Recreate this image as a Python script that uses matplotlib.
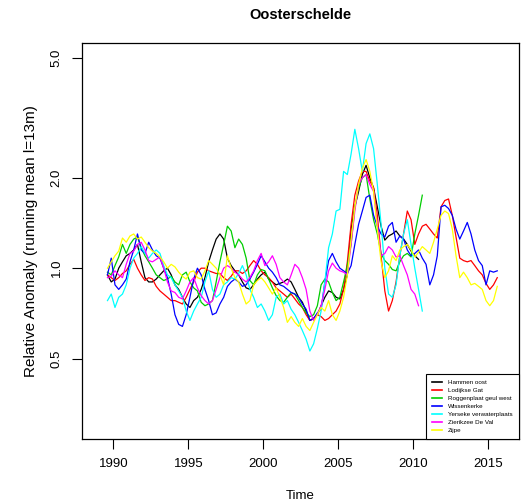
import numpy as np
import matplotlib
matplotlib.use("Agg")
import matplotlib.pyplot as plt

plt.rcParams['font.family'] = ['Liberation Sans', 'DejaVu Sans']

# quarterly samples of the 13-month running mean, first sample at 1989.6
t0 = 1989.6
step = 0.25

hammen_oost = [0.95, 0.9, 0.92, 1.0, 1.05, 1.1, 1.12, 1.15, 1.2, 1.05,
               0.93, 0.9, 0.9, 0.92, 0.95, 0.98, 1.0, 0.95, 0.88, 0.85,
               0.8, 0.76, 0.74, 0.78, 0.8, 0.85, 0.93, 1.05, 1.15, 1.25,
               1.3, 1.25, 1.08, 1.02, 0.98, 0.95, 0.9, 0.86, 0.85, 0.88,
               0.92, 0.95, 0.97, 0.92, 0.9, 0.88, 0.89, 0.9, 0.92, 0.9,
               0.85, 0.8, 0.77, 0.72, 0.67, 0.68, 0.7, 0.75, 0.8, 0.84,
               0.83, 0.8, 0.79, 0.85, 0.95, 1.35, 1.6, 1.8, 2.05, 2.2,
               2.0, 1.85, 1.6, 1.38, 1.24, 1.28, 1.3, 1.33, 1.28, 1.25,
               1.2, 1.14, 1.1, 1.07]

lodijkse_gat = [0.95, 0.93, 0.91, 0.93, 0.96, 0.98, 1.03, 1.07, 1.0, 0.95,
                0.91, 0.93, 0.92, 0.87, 0.84, 0.82, 0.8, 0.78, 0.78, 0.77,
                0.76, 0.8, 0.85, 0.9, 0.97, 1.0, 1.0, 0.98, 0.97, 0.96,
                0.96, 0.93, 0.91, 0.94, 0.98, 0.98, 0.96, 0.98, 1.02, 1.06,
                1.03, 0.98, 0.95, 0.93, 0.9, 0.86, 0.84, 0.82, 0.8, 0.82,
                0.79, 0.76, 0.74, 0.7, 0.67, 0.68, 0.7, 0.69, 0.67, 0.68,
                0.7, 0.72, 0.76, 0.85, 1.05, 1.4, 1.75, 1.95, 2.1, 2.1,
                1.95, 1.85, 1.5, 1.1, 0.84, 0.72, 0.78, 0.9, 1.1, 1.3,
                1.55, 1.45, 1.2, 1.3, 1.38, 1.4, 1.35, 1.3, 1.26, 1.6,
                1.68, 1.7, 1.5, 1.27, 1.08, 1.06, 1.05, 1.06, 1.02, 0.98,
                0.95, 0.89, 0.85, 0.88, 0.93]

roggenplaat = [0.97, 0.95, 1.02, 1.09, 1.2, 1.12, 1.2, 1.25, 1.27, 1.17,
               1.1, 1.05, 1.0, 0.95, 0.93, 0.91, 0.92, 0.94, 0.9, 0.88,
               0.95, 0.97, 0.9, 0.86, 0.84, 0.77, 0.75, 0.76, 0.78, 0.9,
               1.05, 1.2, 1.38, 1.33, 1.17, 1.25, 1.2, 1.08, 0.91, 0.88,
               0.95, 0.99, 0.98, 0.92, 0.86, 0.81, 0.78, 0.77, 0.8, 0.83,
               0.82, 0.78, 0.74, 0.71, 0.69, 0.7, 0.75, 0.88, 0.92, 0.9,
               0.83, 0.78, 0.8, 0.9, 1.02, 1.2, 1.6, 1.85, 2.0, 2.05,
               1.7, 1.45, 1.3, 1.12, 1.06, 1.03, 0.99, 0.98, 1.05, 1.1,
               1.12, 1.09, 1.3, 1.5, 1.75]

wissenkerke = [0.95, 1.08, 0.88, 0.85, 0.88, 0.92, 1.05, 1.15, 1.3, 1.15,
               1.12, 1.22, 1.15, 1.1, 1.08, 1.0, 0.93, 0.82, 0.7, 0.65,
               0.64, 0.7, 0.8, 0.92, 1.0, 0.95, 0.85, 0.78, 0.7, 0.71,
               0.76, 0.8, 0.87, 0.9, 0.92, 0.9, 0.87, 0.88, 0.92, 0.97,
               1.03, 1.1, 1.05, 1.0, 0.97, 0.93, 0.88, 0.87, 0.85, 0.83,
               0.82, 0.8, 0.76, 0.73, 0.67, 0.68, 0.71, 0.73, 0.9, 1.06,
               1.12, 1.05, 1.0, 0.98, 0.96, 1.02, 1.2, 1.4, 1.55, 1.72,
               1.75, 1.5, 1.38, 1.3, 1.27, 1.38, 1.42, 1.22, 1.28, 1.25,
               1.15, 1.1, 1.12, 1.15, 1.08, 1.03, 0.88, 0.95, 1.1, 1.6,
               1.62, 1.58, 1.5, 1.35, 1.25, 1.33, 1.42, 1.3, 1.15, 1.06,
               1.02, 0.88, 0.98, 0.97, 0.98]

yerseke = [0.78, 0.82, 0.74, 0.8, 0.82, 0.88, 1.0, 1.08, 1.12, 1.18,
           1.12, 1.08, 1.12, 1.15, 1.12, 1.02, 0.95, 0.93, 0.88, 0.84,
           0.8, 0.72, 0.67, 0.72, 0.76, 0.8, 0.9, 0.98, 0.85, 0.8,
           0.82, 0.88, 0.9, 0.93, 0.92, 0.96, 1.02, 0.95, 0.85, 0.8,
           0.74, 0.76, 0.72, 0.67, 0.7, 0.8, 0.82, 0.76, 0.78, 0.73,
           0.7, 0.66, 0.62, 0.58, 0.53, 0.56, 0.63, 0.72, 0.9, 1.17,
           1.3, 1.55, 1.57, 2.1, 2.05, 2.4, 2.9, 2.5, 2.1, 2.6,
           2.8, 2.5, 1.9, 1.4, 1.0, 0.82, 0.8, 0.88, 1.1, 1.3,
           1.45, 1.2, 1.0, 0.85, 0.72]

zierikzee = [0.93, 0.94, 0.98, 0.95, 0.93, 1.03, 1.12, 1.14, 1.2, 1.22,
             1.15, 1.06, 1.05, 1.07, 1.09, 1.0, 0.9, 0.84, 0.83, 0.8,
             0.79, 0.84, 0.9, 0.93, 0.86, 0.81, 0.78, 0.76, 0.78, 0.85,
             0.93, 1.0, 1.02, 1.0, 0.97, 0.95, 0.92, 0.9, 0.93, 0.98,
             1.06, 1.12, 1.02, 1.05, 1.1, 1.03, 0.93, 0.9, 0.88, 0.95,
             1.03, 1.0, 0.93, 0.85, 0.72, 0.67, 0.7, 0.75, 0.85, 0.98,
             1.04, 1.0, 0.98, 0.97, 0.95, 1.2, 1.55, 1.9, 2.0, 2.05,
             1.9, 1.8, 1.4, 1.1, 1.12, 1.18, 1.15, 1.09, 1.1, 1.02,
             0.95, 0.85, 0.82, 0.75]

zijpe = [1.0, 1.05, 1.1, 1.14, 1.26, 1.22, 1.28, 1.3, 1.25, 1.27,
         1.22, 1.17, 1.14, 1.12, 1.09, 1.05, 1.0, 1.03, 1.01, 0.97,
         0.94, 0.92, 0.97, 0.98, 0.93, 0.92, 0.98, 1.06, 1.03, 1.0,
         0.95, 0.88, 1.1, 1.0, 0.93, 0.9, 0.82, 0.76, 0.78, 0.88,
         0.91, 0.93, 0.9, 0.86, 0.82, 0.86, 0.8, 0.74, 0.66, 0.69,
         0.66, 0.64, 0.68, 0.64, 0.62, 0.66, 0.7, 0.74, 0.72, 0.78,
         0.7, 0.67, 0.72, 0.8, 0.95, 1.25, 1.6, 1.9, 2.15, 2.3,
         2.1, 1.8, 1.35, 1.05, 0.93, 0.98, 1.1, 1.06, 1.15, 1.18,
         1.2, 1.15, 1.09, 1.13, 1.18, 1.15, 1.12, 1.22, 1.35, 1.5,
         1.55, 1.52, 1.35, 1.1, 0.93, 0.97, 0.93, 0.88, 0.89, 0.87,
         0.85, 0.78, 0.75, 0.78, 0.87]

stations = ["Hammen oost", "Lodijkse Gat", "Roggenplaat geul west", "Wissenkerke",
            "Yerseke verwaterplaats", "Zierikzee De Val", "Zijpe"]
series = [hammen_oost, lodijkse_gat, roggenplaat, wissenkerke, yerseke, zierikzee, zijpe]
colors = ["#000000", "#FF0000", "#00CD00", "#0000FF", "#00FFFF", "#FF00FF", "#FFFF00"]

yticks = [0.5, 1.0, 2.0, 5.0]
xticks = [1990, 1995, 2000, 2005, 2010, 2015]

fig = plt.figure(figsize=(5.27, 5.04), dpi=100)
ax = fig.add_axes([0.1556, 0.129, 0.8292, 0.7857])

for name, vals, col in zip(stations, series, colors):
    t = t0 + step * np.arange(len(vals))
    ax.plot(t, vals, color=col, lw=0.9, label=name)

ax.set_yscale('log')
ax.set_xlim(1987.9, 2017.05)
ax.set_ylim(0.27, 5.62)
ax.set_yticks(yticks)
ax.set_yticklabels([f"{v:.1f}" for v in yticks], rotation=90, va='center')
ax.yaxis.set_minor_locator(matplotlib.ticker.NullLocator())
ax.set_xticks(xticks)
ax.tick_params(direction='out', length=7, width=0.8, labelsize=9.5, pad=7)
for s in ax.spines.values():
    s.set_linewidth(0.9)

ax.set_title("Oosterschelde", fontsize=10.5, fontweight='bold', pad=17)
ax.set_xlabel("Time", fontsize=9.5, labelpad=14)
ax.set_ylabel("Relative Anomaly (running mean l=13m)", fontsize=11, labelpad=9)

leg = ax.legend(loc='lower right', fontsize=4.5, borderaxespad=0, fancybox=False,
                edgecolor='black', framealpha=1, handlelength=1.6,
                handletextpad=1.0, labelspacing=0.4, borderpad=1.0)
leg.get_frame().set_linewidth(0.8)
for line in leg.get_lines():
    line.set_linewidth(1.2)

fig.savefig("out.png", dpi=100)
